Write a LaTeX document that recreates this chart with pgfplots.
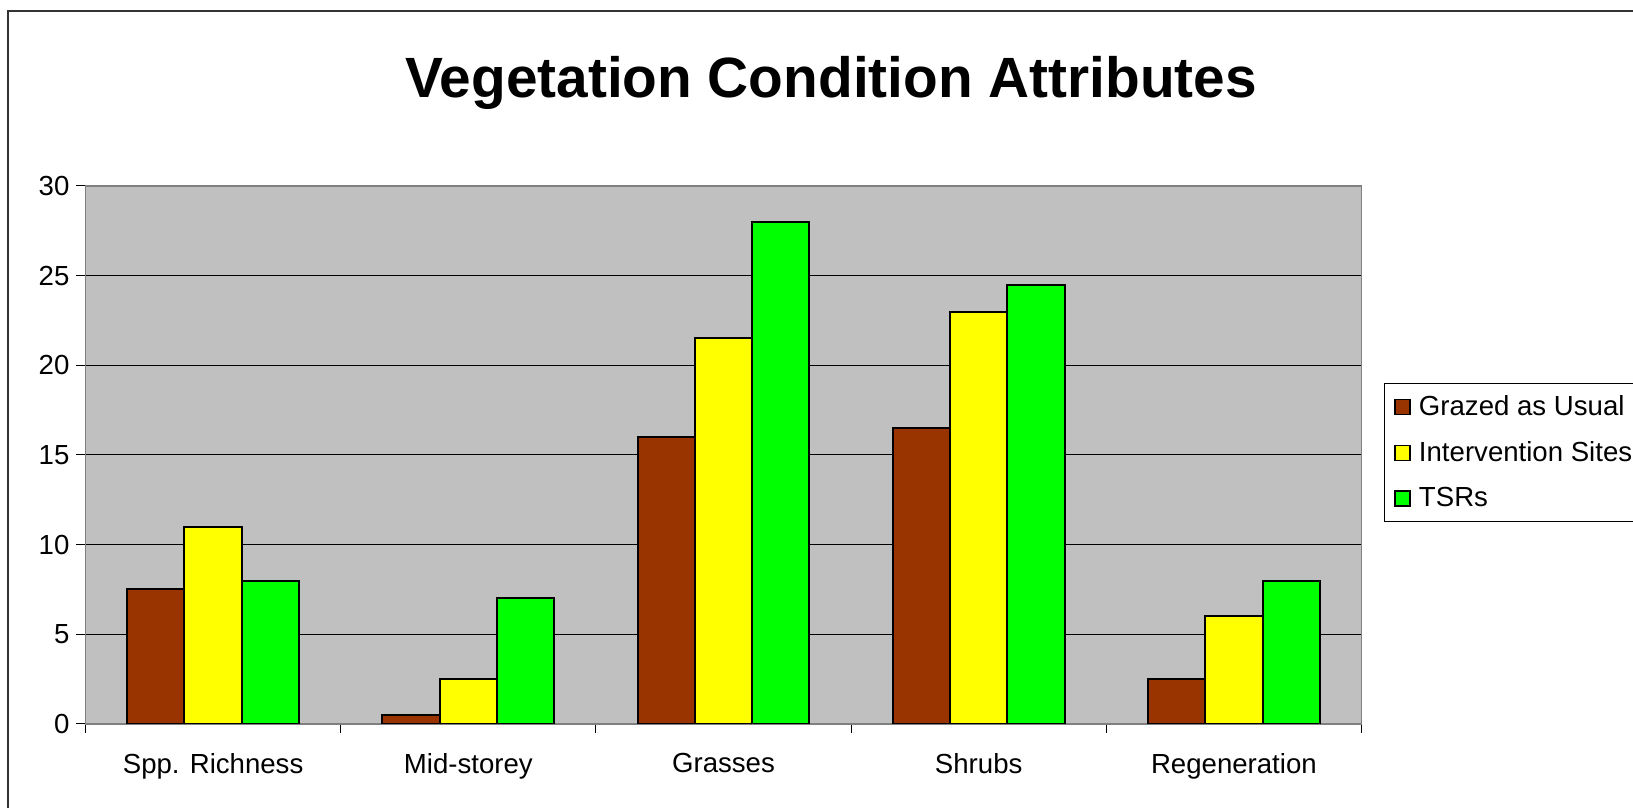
\documentclass[border=0pt]{standalone}
\usepackage{fontspec}
\setmainfont{Liberation Sans}
\usepackage{pgfplots}
\pgfplotsset{compat=1.18}
\definecolor{cbrown}{HTML}{993300}
\definecolor{cyellow}{HTML}{FFFF00}
\definecolor{cgreen}{HTML}{00FF00}
\definecolor{cbg}{HTML}{C0C0C0}
\definecolor{cax}{HTML}{808080}
\begin{document}
\begin{tikzpicture}
\path[use as bounding box] (0,0) rectangle (816.5pt,404pt);
\clip (0,0) rectangle (816.5pt,404pt);
\draw[line width=1pt, color=black!80] (4pt,-10pt) -- (4pt,398.5pt) -- (830pt,398.5pt);
\node at (415.5pt,362.5pt) {\bfseries\fontsize{28.4}{32}\selectfont Vegetation Condition Attributes};
\begin{axis}[
  at={(42.75pt,42pt)}, anchor=south west,
  scale only axis, width=638pt, height=269pt,
  xmin=-0.5, xmax=4.5, ymin=0, ymax=30,
  ybar=0pt, bar width=0.2245,
  axis background/.style={fill=cbg},
  axis line style={color=cax, line width=0.8pt},
  ytick={0,5,...,30},
  ymajorgrids, grid style={color=black, line width=0.5pt},
  xtick={0,1,2,3,4},
  xticklabels={Spp. Richness, Mid-storey, Grasses, Shrubs, Regeneration},
  minor xtick={-0.5,0.5,...,4.5},
  tick align=outside,
  major tick length=4.5pt, minor tick length=4.5pt,
  xtick style={draw=none},
  minor x tick style={draw=black, line width=0.5pt},
  ytick style={draw=black, line width=0.5pt},
  xtick pos=bottom, ytick pos=left,
  /pgf/number format/assume math mode=true,
  ticklabel style={font=\fontsize{13.8}{16}\selectfont},
  xticklabel style={yshift=-6.5pt},
  legend style={at={(1.018,0.634)}, anchor=north west, draw=black, line width=0.5pt,
    fill=white, font=\fontsize{13.8}{16}\selectfont, row sep=7.5pt,
    inner xsep=4pt, inner ysep=4pt, legend cell align=left},
  legend image code/.code={\draw[#1, draw=black, line width=0.8pt] (0.5pt,-3.75pt) rectangle (8pt,3.75pt); \path (0pt,0pt) (10pt,0pt);},
]
\addplot[fill=cbrown, draw=black, line width=1pt] coordinates {(0,7.5) (1,0.5) (2,16) (3,16.5) (4,2.5)};
\addplot[fill=cyellow, draw=black, line width=1pt] coordinates {(0,11) (1,2.5) (2,21.5) (3,23) (4,6)};
\addplot[fill=cgreen, draw=black, line width=1pt] coordinates {(0,8) (1,7) (2,28) (3,24.5) (4,8)};
\legend{Grazed as Usual, Intervention Sites, TSRs}
\end{axis}
\end{tikzpicture}
\end{document}
